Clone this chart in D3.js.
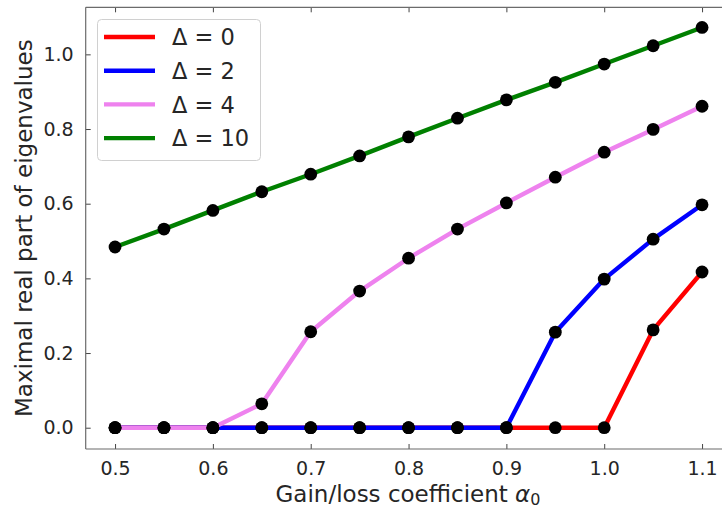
<!DOCTYPE html>
<html>
<head>
<meta charset="utf-8">
<script src="https://cdn.jsdelivr.net/npm/d3@7"></script>
<style>
  html, body { margin: 0; padding: 0; background: #fff; overflow: hidden; }
  svg { display: block; font-family: "DejaVu Sans", sans-serif; }
</style>
</head>
<body>
<svg id="chart" width="722" height="508"></svg>
<script>
// Gain/loss coefficient values on the x axis
const alpha = [0.5, 0.55, 0.6, 0.65, 0.7, 0.75, 0.8, 0.85, 0.9, 0.95, 1.0, 1.05, 1.1];

// Maximal real part of eigenvalues for each detuning Δ
const delta0  = [0, 0, 0, 0, 0, 0, 0, 0, 0, 0, 0, 0.262, 0.417];
const delta2  = [0, 0, 0, 0, 0, 0, 0, 0, 0, 0.256, 0.398, 0.505, 0.597];
const delta4  = [0, 0, 0, 0.064, 0.257, 0.366, 0.454, 0.532, 0.602, 0.671, 0.738, 0.799, 0.861];
const delta10 = [0.484, 0.532, 0.582, 0.632, 0.679, 0.728, 0.779, 0.829, 0.878, 0.925, 0.974, 1.023, 1.072];

const seriesNames  = ["Δ = 0", "Δ = 2", "Δ = 4", "Δ = 10"];
const seriesColors = ["#ff0000", "#0000ff", "#ee82ee", "#008000"];
const seriesValues = [delta0, delta2, delta4, delta10];

const xTicks = [0.5, 0.6, 0.7, 0.8, 0.9, 1.0, 1.1];
const yTicks = [0.0, 0.2, 0.4, 0.6, 0.8, 1.0];

const svg = d3.select("#chart");
const textColor = "#262626";
const spineColor = "#6b6b6b";
const tickFont = 19;
const labelFont = 23;
const legendFont = 22.5;

const x = d3.scaleLinear().domain([0.47, 1.13]).range([85.7, 731.4]);
const y = d3.scaleLinear().domain([-0.057, 1.126]).range([449, 7.3]);

const plotLeft = x.range()[0], plotRight = x.range()[1];
const plotTop = y.range()[1], plotBottom = y.range()[0];

// Inward-pointing ticks on left, bottom and top
const yAxis = d3.axisLeft(y).tickValues(yTicks).tickFormat(d3.format(".1f")).tickSizeInner(-5).tickSizeOuter(0).tickPadding(12);
const xAxis = d3.axisBottom(x).tickValues(xTicks).tickFormat(d3.format(".1f")).tickSizeInner(-5).tickSizeOuter(0).tickPadding(13);
const xTop  = d3.axisTop(x).tickValues(xTicks).tickFormat("").tickSizeInner(-5).tickSizeOuter(0);

function styleAxis(g) {
  g.select(".domain").remove();
  g.selectAll(".tick line").attr("stroke", "#444").attr("stroke-width", 1);
  g.selectAll(".tick text").attr("fill", textColor).style("font-size", tickFont + "px").style("font-family", "DejaVu Sans");
}

svg.append("g").attr("transform", `translate(${plotLeft},0)`).call(yAxis).call(styleAxis);
svg.append("g").attr("transform", `translate(0,${plotBottom})`).call(xAxis).call(styleAxis);
svg.append("g").attr("transform", `translate(0,${plotTop})`).call(xTop).call(styleAxis);

// Plot frame
const frame = svg.append("g").attr("stroke", spineColor).attr("stroke-width", 1.2).attr("fill", "none");
frame.append("line").attr("x1", plotLeft).attr("x2", plotLeft).attr("y1", plotTop).attr("y2", plotBottom);
frame.append("line").attr("x1", plotLeft).attr("x2", plotRight).attr("y1", plotBottom).attr("y2", plotBottom);
frame.append("line").attr("x1", plotLeft).attr("x2", plotRight).attr("y1", plotTop).attr("y2", plotTop);
frame.append("line").attr("x1", plotRight).attr("x2", plotRight).attr("y1", plotTop).attr("y2", plotBottom);

// Series lines
const line = d3.line().x((d, i) => x(alpha[i])).y(d => y(d));
seriesValues.forEach((vals, k) => {
  svg.append("path")
    .datum(vals)
    .attr("d", line)
    .attr("fill", "none")
    .attr("stroke", seriesColors[k])
    .attr("stroke-width", 4.4)
    .attr("stroke-linejoin", "round");
});

// Black markers on every data point
seriesValues.forEach(vals => {
  svg.append("g").selectAll("circle")
    .data(vals)
    .join("circle")
    .attr("cx", (d, i) => x(alpha[i]))
    .attr("cy", d => y(d))
    .attr("r", 6.4)
    .attr("fill", "#000");
});

// Legend
const legend = svg.append("g");
legend.append("rect")
  .attr("x", 97.5).attr("y", 19.5).attr("width", 163).attr("height", 141)
  .attr("rx", 4).attr("fill", "#fff").attr("fill-opacity", 0.8)
  .attr("stroke", "#d0d0d0").attr("stroke-width", 1);
seriesNames.forEach((name, k) => {
  const ly = 37 + k * 33.7;
  legend.append("line")
    .attr("x1", 104).attr("x2", 155).attr("y1", ly).attr("y2", ly)
    .attr("stroke", seriesColors[k]).attr("stroke-width", 4.4);
  legend.append("text")
    .attr("x", 172).attr("y", ly).attr("dy", "0.36em")
    .attr("fill", textColor).style("font-size", legendFont + "px")
    .text(name);
});

// Axis labels
svg.append("text")
  .attr("transform", `translate(32,${(plotTop + plotBottom) / 2}) rotate(-90)`)
  .attr("text-anchor", "middle")
  .attr("fill", textColor).style("font-size", labelFont + "px")
  .text("Maximal real part of eigenvalues");

const xl = svg.append("text")
  .attr("x", 408).attr("y", 501.5)
  .attr("text-anchor", "middle")
  .attr("fill", textColor).style("font-size", labelFont + "px");
xl.append("tspan").text("Gain/loss coefficient ");
xl.append("tspan").style("font-style", "italic").text("α");
xl.append("tspan").attr("dy", 3).style("font-size", "16px").text("0");
</script>
</body>
</html>
